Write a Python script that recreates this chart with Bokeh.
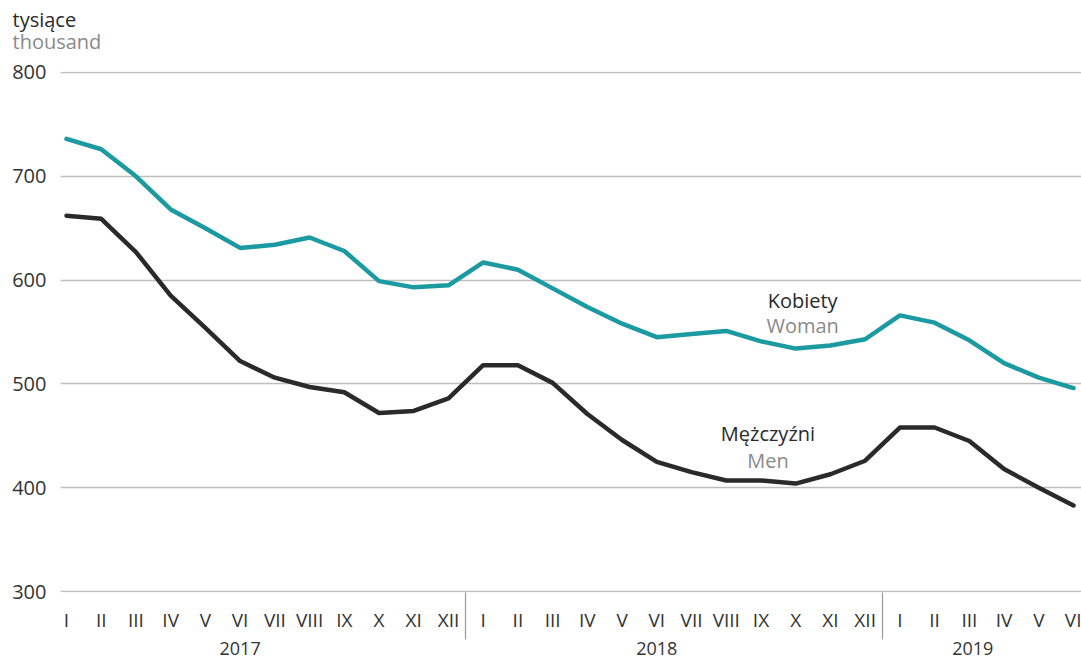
from bokeh.plotting import figure
from bokeh.models import FixedTicker, LinearAxis, Range1d, Title
from bokeh.core.properties import value
from bokeh.embed import file_html
from bokeh.resources import INLINE

months = ["I", "II", "III", "IV", "V", "VI", "VII", "VIII", "IX", "X", "XI", "XII"] * 2 + ["I", "II", "III", "IV", "V", "VI"]
years = ["2017", "2018", "2019"]
year_label_pos = [5.0, 17.0, 26.1]
year_breaks = [11.5, 23.5]

women = [736, 726, 700, 668, 650, 631, 634, 641, 628, 599, 593, 595,
         617, 610, 592, 574, 558, 545, 548, 551, 541, 534, 537, 543,
         566, 559, 542, 520, 506, 496]
men = [662, 659, 627, 585, 554, 522, 506, 497, 492, 472, 474, 486,
       518, 518, 501, 471, 446, 425, 415, 407, 407, 404, 413, 426,
       458, 458, 445, 418, 400, 383]

y_ticks = [300, 400, 500, 600, 700, 800]

FONT = "Open Sans"
TEAL = "#1b9aa1"
DARK = "#2a2a2a"
GREY = "#8a8a8a"

x = list(range(len(months)))

p = figure(width=1081, height=658, output_backend="svg", toolbar_location=None,
           x_range=Range1d(-0.173, 29.23), y_range=Range1d(299.1, 800.9),
           min_border_left=60, min_border_right=0, min_border_top=71, min_border_bottom=66,
           x_axis_location=None)
p.outline_line_color = None
p.background_fill_color = "white"
p.border_fill_color = "white"

p.xgrid.grid_line_color = None
p.ygrid.grid_line_color = "#bdbdbd"
p.ygrid.grid_line_width = 1.3
p.ygrid.ticker = FixedTicker(ticks=y_ticks)

ya = p.yaxis[0]
ya.ticker = FixedTicker(ticks=y_ticks)
ya.axis_line_color = None
ya.major_tick_line_color = None
ya.minor_tick_line_color = None
ya.major_label_text_font = FONT
ya.major_label_text_font_size = "20px"
ya.major_label_text_color = "#333333"
ya.major_label_standoff = 8

xa = LinearAxis(ticker=FixedTicker(ticks=x, minor_ticks=year_breaks))
xa.major_label_overrides = {i: m for i, m in enumerate(months)}
xa.axis_line_color = None
xa.major_tick_line_color = None
xa.minor_tick_line_color = "#9a9a9a"
xa.minor_tick_line_width = 1.2
xa.minor_tick_out = 47
xa.minor_tick_in = 0
xa.major_label_text_font = FONT
xa.major_label_text_font_size = "19px"
xa.major_label_text_color = "#333333"
xa.major_label_standoff = -33
p.add_layout(xa, "below")

ya2 = LinearAxis(ticker=FixedTicker(ticks=year_label_pos))
ya2.major_label_overrides = {pos: yr for pos, yr in zip(year_label_pos, years)}
ya2.axis_line_color = None
ya2.major_tick_line_color = None
ya2.minor_tick_line_color = None
ya2.major_label_text_font = FONT
ya2.major_label_text_font_size = "18px"
ya2.major_label_text_color = "#333333"
ya2.major_label_standoff = 0
p.add_layout(ya2, "below")

p.line(x, women, line_color=TEAL, line_width=4.5, line_join="round", line_cap="round")
p.line(x, men, line_color=DARK, line_width=4.5, line_join="round", line_cap="round")

p.text(x=[21.2], y=[580], text=["Kobiety"], text_font=value(FONT), text_font_size="20px",
       text_color=DARK, text_align="center", text_baseline="middle")
p.text(x=[21.2], y=[556], text=["Woman"], text_font=value(FONT), text_font_size="20px",
       text_color=GREY, text_align="center", text_baseline="middle")
p.text(x=[20.2], y=[452], text=["Mężczyźni"], text_font=value(FONT), text_font_size="20px",
       text_color=DARK, text_align="center", text_baseline="middle")
p.text(x=[20.2], y=[426], text=["Men"], text_font=value(FONT), text_font_size="20px",
       text_color=GREY, text_align="center", text_baseline="middle")

t_en = Title(text="thousand", align="left", offset=-48, standoff=34,
             text_font=FONT, text_font_size="20px", text_font_style="normal", text_color=GREY)
t_pl = Title(text="tysiące", align="left", offset=-48, standoff=-48,
             text_font=FONT, text_font_size="20px", text_font_style="normal", text_color=DARK)
p.add_layout(t_en, "above")
p.add_layout(t_pl, "above")

open("out.html", "w").write(file_html(p, INLINE))
